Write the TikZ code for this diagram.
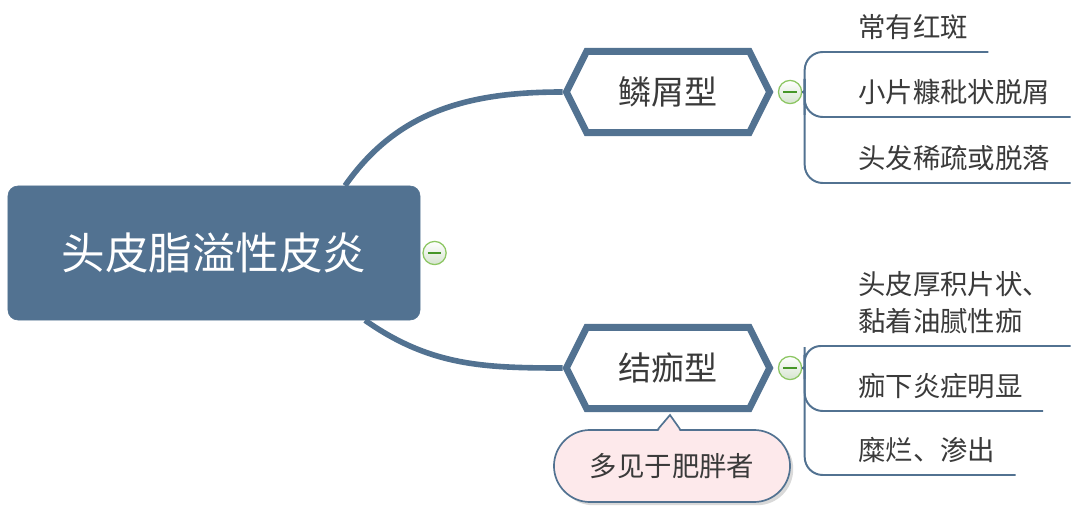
\documentclass[tikz,border=0pt]{standalone}
\usepackage{fontspec}
\setmainfont{Noto Sans CJK SC}
\usepackage{tikz}
\usetikzlibrary{shapes,shadows,calc}
\usetikzlibrary{positioning}
\definecolor{topic}{RGB}{82,114,145}
\definecolor{ink}{RGB}{58,58,58}
\definecolor{foldgreen}{RGB}{140,198,98}
\definecolor{foldshade}{RGB}{214,228,208}
\definecolor{foldmark}{RGB}{70,150,40}
\definecolor{notepink}{RGB}{253,233,235}
\tikzset{
    central/.style={
           rectangle,
           rounded corners=0.25cm,
           fill=topic, draw=topic,
           minimum width=10.3cm,
           minimum height=3.35cm,
           text=white,
           font=\fontsize{31}{36}\selectfont,
           },
    hexa/.style={
           signal,
           signal to=east and west,
           signal pointer angle=127,
           draw=topic, line width=0.17cm,
           fill=white,
           minimum width=5.08cm,
           minimum height=2.03cm,
           text=ink,
           font=\fontsize{23.5}{28}\selectfont,
           },
    fold/.style={
           circle,
           draw=foldgreen, line width=0.9pt,
           top color=white, bottom color=foldshade,
           minimum size=0.58cm,
           inner sep=0,
           path picture={\draw[foldmark, line width=0.8pt]
              ([xshift=-0.17cm]path picture bounding box.center) --
              ([xshift=0.17cm]path picture bounding box.center);},
           },
    leaf/.style={
           anchor=south west,
           inner xsep=0.5cm, inner ysep=0,
           text depth=0.35cm,
           text=ink,
           align=left,
           font=\fontsize{19.5}{26.3}\selectfont,
           },
    note/.style={
           rectangle,
           rounded corners=0.9cm,
           draw=topic, line width=1.2pt,
           fill=notepink,
           minimum width=5.9cm,
           minimum height=1.8cm,
           text=ink,
           font=\fontsize{19.5}{24}\selectfont,
           drop shadow={opacity=0.3, shadow xshift=0.08cm, shadow yshift=-0.08cm},
           },
    main/.style={
           draw=topic,
           line width=0.14cm,
           },
    twig/.style={
           draw=topic,
           line width=1.4pt,
           rounded corners=0.45cm,
           }
}
\begin{document}
\begin{tikzpicture}[x=0.025cm,y=-0.025cm]
\useasboundingbox (0,0) rectangle (1080,511);
\node[central] (root) at (214,253) {头皮脂溢性皮炎};
\node[hexa] (t1) at (668,92) {鳞屑型};
\node[hexa] (t2) at (668,368) {结痂型};
\node[fold, right=0.05cm of root] (f0) {};
\node[fold, right=0.11cm of t1] (f1) {};
\node[fold, right=0.11cm of t2] (f2) {};
\draw[main] ([xshift=3.275cm]root.north) to[out=55,in=180] (t1.west);
\draw[main] ([xshift=3.775cm]root.south) to[out=-35,in=180] (t2.west);
\node[leaf] (s1) at (838,52) {常有红斑};
\node[leaf] (s2) at (838,117) {小片糠秕状脱屑};
\node[leaf] (s3) at (838,183) {头发稀疏或脱落};
\node[leaf] (c1) at (838,346) {头皮厚积片状、\\黏着油腻性痂};
\node[leaf] (c2) at (838,411) {痂下炎症明显};
\node[leaf] (c3) at (838,475) {糜烂、渗出};
\draw[twig] (f1.east) to[out=0,in=-90] ++(0.06cm,0.12cm) |- (s1.south east);
\draw[twig] (f1.east) to[out=0,in=90] ++(0.06cm,-0.12cm) |- (s2.south east);
\draw[twig] (f1.east) to[out=0,in=90] ++(0.06cm,-0.12cm) |- (s3.south east);
\draw[twig, rounded corners=0.4cm] (f2.east) to[out=0,in=-90] ++(0.06cm,0.12cm) |- (c1.south east);
\draw[twig] (f2.east) to[out=0,in=90] ++(0.06cm,-0.12cm) |- (c2.south east);
\draw[twig] (f2.east) to[out=0,in=90] ++(0.06cm,-0.12cm) |- (c3.south east);
\node[note] (n1) at (672,466) {多见于肥胖者};
\fill[notepink] ([xshift=-0.35cm,yshift=-0.06cm]n1.north) -- ([xshift=0.05cm,yshift=-0.075cm]t2.south) -- ([xshift=0.2cm,yshift=-0.06cm]n1.north) -- cycle;
\draw[topic, line width=1.2pt] ([xshift=-0.35cm]n1.north) -- ([xshift=0.05cm,yshift=-0.075cm]t2.south) -- ([xshift=0.2cm]n1.north);
\end{tikzpicture}
\end{document}
